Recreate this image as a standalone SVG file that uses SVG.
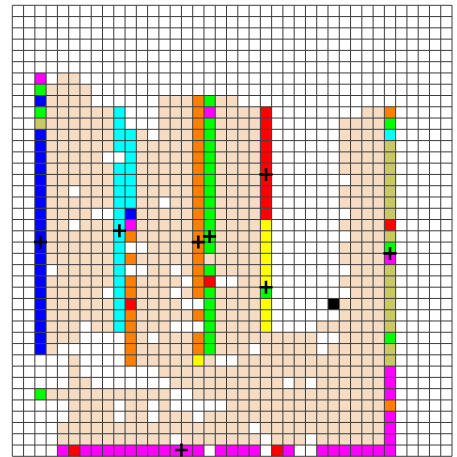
<svg xmlns="http://www.w3.org/2000/svg" width="457" height="457" viewBox="0 0 457 457">
<style>
.b{fill:#f5dcc3}.B{fill:#0000ff}.C{fill:#00ffff}.G{fill:#00ff00}.M{fill:#ff00ff}.R{fill:#ff0000}.O{fill:#ff8000}.Y{fill:#ffff00}.K{fill:#c8c864}.X{fill:#000000}
.grid{fill:none;stroke:#3c3c3c;stroke-width:1}
.cross{fill:none;stroke:#000;stroke-width:2.6}
</style>
<rect width="457" height="457" fill="#ffffff"/>
<g id="cells" transform="translate(12.3,5.3) scale(11.275)">
<rect class="M" x="2" y="6" width="1" height="1"/><rect class="b" x="4" y="6" width="2" height="1"/>
<rect class="G" x="2" y="7" width="1" height="1"/><rect class="b" x="3" y="7" width="4" height="1"/>
<rect class="B" x="2" y="8" width="1" height="1"/><rect class="b" x="3" y="8" width="4" height="1"/><rect class="b" x="13" y="8" width="3" height="1"/><rect class="O" x="16" y="8" width="1" height="1"/><rect class="G" x="17" y="8" width="1" height="1"/><rect class="b" x="18" y="8" width="2" height="1"/>
<rect class="G" x="2" y="9" width="1" height="1"/><rect class="b" x="3" y="9" width="6" height="1"/><rect class="C" x="9" y="9" width="1" height="1"/><rect class="b" x="13" y="9" width="3" height="1"/><rect class="O" x="16" y="9" width="1" height="1"/><rect class="M" x="17" y="9" width="1" height="1"/><rect class="b" x="18" y="9" width="4" height="1"/><rect class="R" x="22" y="9" width="1" height="1"/><rect class="b" x="31" y="9" width="2" height="1"/><rect class="O" x="33" y="9" width="1" height="1"/>
<rect class="K" x="2" y="10" width="1" height="1"/><rect class="b" x="3" y="10" width="6" height="1"/><rect class="C" x="9" y="10" width="1" height="1"/><rect class="b" x="13" y="10" width="3" height="1"/><rect class="O" x="16" y="10" width="1" height="1"/><rect class="G" x="17" y="10" width="1" height="1"/><rect class="b" x="18" y="10" width="4" height="1"/><rect class="R" x="22" y="10" width="1" height="1"/><rect class="b" x="29" y="10" width="4" height="1"/><rect class="G" x="33" y="10" width="1" height="1"/>
<rect class="B" x="2" y="11" width="1" height="1"/><rect class="b" x="3" y="11" width="6" height="1"/><rect class="C" x="9" y="11" width="2" height="1"/><rect class="b" x="11" y="11" width="1" height="1"/><rect class="b" x="13" y="11" width="3" height="1"/><rect class="O" x="16" y="11" width="1" height="1"/><rect class="G" x="17" y="11" width="1" height="1"/><rect class="b" x="18" y="11" width="4" height="1"/><rect class="R" x="22" y="11" width="1" height="1"/><rect class="b" x="29" y="11" width="4" height="1"/><rect class="C" x="33" y="11" width="1" height="1"/>
<rect class="B" x="2" y="12" width="1" height="1"/><rect class="b" x="3" y="12" width="6" height="1"/><rect class="C" x="9" y="12" width="2" height="1"/><rect class="b" x="11" y="12" width="5" height="1"/><rect class="O" x="16" y="12" width="1" height="1"/><rect class="G" x="17" y="12" width="1" height="1"/><rect class="b" x="18" y="12" width="4" height="1"/><rect class="R" x="22" y="12" width="1" height="1"/><rect class="b" x="29" y="12" width="4" height="1"/><rect class="K" x="33" y="12" width="1" height="1"/>
<rect class="B" x="2" y="13" width="1" height="1"/><rect class="b" x="3" y="13" width="5" height="1"/><rect class="C" x="10" y="13" width="1" height="1"/><rect class="b" x="11" y="13" width="5" height="1"/><rect class="O" x="16" y="13" width="1" height="1"/><rect class="G" x="17" y="13" width="1" height="1"/><rect class="b" x="18" y="13" width="4" height="1"/><rect class="R" x="22" y="13" width="1" height="1"/><rect class="b" x="29" y="13" width="4" height="1"/><rect class="K" x="33" y="13" width="1" height="1"/>
<rect class="B" x="2" y="14" width="1" height="1"/><rect class="b" x="3" y="14" width="6" height="1"/><rect class="C" x="9" y="14" width="2" height="1"/><rect class="b" x="11" y="14" width="5" height="1"/><rect class="O" x="16" y="14" width="1" height="1"/><rect class="G" x="17" y="14" width="1" height="1"/><rect class="b" x="18" y="14" width="4" height="1"/><rect class="R" x="22" y="14" width="1" height="1"/><rect class="b" x="29" y="14" width="4" height="1"/><rect class="K" x="33" y="14" width="1" height="1"/>
<rect class="B" x="2" y="15" width="1" height="1"/><rect class="b" x="3" y="15" width="6" height="1"/><rect class="C" x="9" y="15" width="2" height="1"/><rect class="b" x="11" y="15" width="5" height="1"/><rect class="O" x="16" y="15" width="1" height="1"/><rect class="G" x="17" y="15" width="1" height="1"/><rect class="b" x="18" y="15" width="4" height="1"/><rect class="R" x="22" y="15" width="1" height="1"/><rect class="b" x="30" y="15" width="3" height="1"/><rect class="K" x="33" y="15" width="1" height="1"/>
<rect class="B" x="2" y="16" width="1" height="1"/><rect class="b" x="3" y="16" width="2" height="1"/><rect class="b" x="6" y="16" width="3" height="1"/><rect class="C" x="9" y="16" width="2" height="1"/><rect class="b" x="11" y="16" width="5" height="1"/><rect class="O" x="16" y="16" width="1" height="1"/><rect class="G" x="17" y="16" width="1" height="1"/><rect class="b" x="18" y="16" width="4" height="1"/><rect class="R" x="22" y="16" width="1" height="1"/><rect class="b" x="29" y="16" width="4" height="1"/><rect class="K" x="33" y="16" width="1" height="1"/>
<rect class="B" x="2" y="17" width="1" height="1"/><rect class="b" x="3" y="17" width="6" height="1"/><rect class="C" x="9" y="17" width="2" height="1"/><rect class="b" x="11" y="17" width="2" height="1"/><rect class="b" x="14" y="17" width="2" height="1"/><rect class="O" x="16" y="17" width="1" height="1"/><rect class="G" x="17" y="17" width="1" height="1"/><rect class="b" x="18" y="17" width="4" height="1"/><rect class="R" x="22" y="17" width="1" height="1"/><rect class="b" x="29" y="17" width="4" height="1"/><rect class="K" x="33" y="17" width="1" height="1"/>
<rect class="B" x="2" y="18" width="1" height="1"/><rect class="b" x="3" y="18" width="4" height="1"/><rect class="C" x="9" y="18" width="1" height="1"/><rect class="B" x="10" y="18" width="1" height="1"/><rect class="b" x="11" y="18" width="5" height="1"/><rect class="O" x="16" y="18" width="1" height="1"/><rect class="G" x="17" y="18" width="1" height="1"/><rect class="b" x="18" y="18" width="4" height="1"/><rect class="R" x="22" y="18" width="1" height="1"/><rect class="b" x="30" y="18" width="3" height="1"/><rect class="K" x="33" y="18" width="1" height="1"/>
<rect class="B" x="2" y="19" width="1" height="1"/><rect class="b" x="3" y="19" width="2" height="1"/><rect class="b" x="6" y="19" width="3" height="1"/><rect class="C" x="9" y="19" width="1" height="1"/><rect class="M" x="10" y="19" width="1" height="1"/><rect class="b" x="11" y="19" width="5" height="1"/><rect class="O" x="16" y="19" width="1" height="1"/><rect class="G" x="17" y="19" width="1" height="1"/><rect class="b" x="18" y="19" width="4" height="1"/><rect class="Y" x="22" y="19" width="1" height="1"/><rect class="b" x="29" y="19" width="4" height="1"/><rect class="R" x="33" y="19" width="1" height="1"/>
<rect class="B" x="2" y="20" width="1" height="1"/><rect class="b" x="3" y="20" width="6" height="1"/><rect class="C" x="9" y="20" width="1" height="1"/><rect class="O" x="10" y="20" width="1" height="1"/><rect class="b" x="11" y="20" width="5" height="1"/><rect class="O" x="16" y="20" width="1" height="1"/><rect class="G" x="17" y="20" width="1" height="1"/><rect class="b" x="18" y="20" width="4" height="1"/><rect class="Y" x="22" y="20" width="1" height="1"/><rect class="b" x="30" y="20" width="3" height="1"/><rect class="K" x="33" y="20" width="1" height="1"/>
<rect class="B" x="2" y="21" width="1" height="1"/><rect class="b" x="3" y="21" width="6" height="1"/><rect class="C" x="9" y="21" width="1" height="1"/><rect class="b" x="12" y="21" width="4" height="1"/><rect class="O" x="16" y="21" width="1" height="1"/><rect class="G" x="17" y="21" width="1" height="1"/><rect class="b" x="18" y="21" width="4" height="1"/><rect class="Y" x="22" y="21" width="1" height="1"/><rect class="b" x="29" y="21" width="4" height="1"/><rect class="G" x="33" y="21" width="1" height="1"/>
<rect class="B" x="2" y="22" width="1" height="1"/><rect class="b" x="3" y="22" width="6" height="1"/><rect class="C" x="9" y="22" width="1" height="1"/><rect class="O" x="10" y="22" width="1" height="1"/><rect class="b" x="11" y="22" width="5" height="1"/><rect class="O" x="16" y="22" width="1" height="1"/><rect class="b" x="17" y="22" width="5" height="1"/><rect class="Y" x="22" y="22" width="1" height="1"/><rect class="b" x="29" y="22" width="4" height="1"/><rect class="M" x="33" y="22" width="1" height="1"/>
<rect class="B" x="2" y="23" width="1" height="1"/><rect class="b" x="4" y="23" width="5" height="1"/><rect class="C" x="9" y="23" width="1" height="1"/><rect class="b" x="12" y="23" width="2" height="1"/><rect class="b" x="15" y="23" width="1" height="1"/><rect class="O" x="16" y="23" width="1" height="1"/><rect class="G" x="17" y="23" width="1" height="1"/><rect class="b" x="18" y="23" width="4" height="1"/><rect class="Y" x="22" y="23" width="1" height="1"/><rect class="b" x="30" y="23" width="3" height="1"/><rect class="K" x="33" y="23" width="1" height="1"/>
<rect class="B" x="2" y="24" width="1" height="1"/><rect class="b" x="3" y="24" width="6" height="1"/><rect class="C" x="9" y="24" width="1" height="1"/><rect class="O" x="10" y="24" width="1" height="1"/><rect class="b" x="11" y="24" width="4" height="1"/><rect class="O" x="16" y="24" width="1" height="1"/><rect class="R" x="17" y="24" width="1" height="1"/><rect class="b" x="20" y="24" width="2" height="1"/><rect class="Y" x="22" y="24" width="1" height="1"/><rect class="b" x="29" y="24" width="4" height="1"/><rect class="K" x="33" y="24" width="1" height="1"/>
<rect class="B" x="2" y="25" width="1" height="1"/><rect class="b" x="3" y="25" width="5" height="1"/><rect class="C" x="9" y="25" width="1" height="1"/><rect class="O" x="10" y="25" width="1" height="1"/><rect class="b" x="11" y="25" width="3" height="1"/><rect class="b" x="15" y="25" width="1" height="1"/><rect class="O" x="16" y="25" width="1" height="1"/><rect class="G" x="17" y="25" width="1" height="1"/><rect class="b" x="18" y="25" width="4" height="1"/><rect class="G" x="22" y="25" width="1" height="1"/><rect class="b" x="30" y="25" width="3" height="1"/><rect class="K" x="33" y="25" width="1" height="1"/>
<rect class="B" x="2" y="26" width="1" height="1"/><rect class="b" x="3" y="26" width="6" height="1"/><rect class="C" x="9" y="26" width="1" height="1"/><rect class="R" x="10" y="26" width="1" height="1"/><rect class="b" x="11" y="26" width="4" height="1"/><rect class="G" x="17" y="26" width="1" height="1"/><rect class="b" x="18" y="26" width="4" height="1"/><rect class="Y" x="22" y="26" width="1" height="1"/><rect class="X" x="28" y="26" width="1" height="1"/><rect class="b" x="29" y="26" width="4" height="1"/><rect class="K" x="33" y="26" width="1" height="1"/>
<rect class="B" x="2" y="27" width="1" height="1"/><rect class="b" x="3" y="27" width="6" height="1"/><rect class="C" x="9" y="27" width="1" height="1"/><rect class="O" x="10" y="27" width="1" height="1"/><rect class="b" x="11" y="27" width="5" height="1"/><rect class="O" x="16" y="27" width="1" height="1"/><rect class="G" x="17" y="27" width="1" height="1"/><rect class="b" x="18" y="27" width="4" height="1"/><rect class="Y" x="22" y="27" width="1" height="1"/><rect class="b" x="29" y="27" width="4" height="1"/><rect class="K" x="33" y="27" width="1" height="1"/>
<rect class="B" x="2" y="28" width="1" height="1"/><rect class="b" x="3" y="28" width="3" height="1"/><rect class="b" x="7" y="28" width="2" height="1"/><rect class="C" x="9" y="28" width="1" height="1"/><rect class="O" x="10" y="28" width="1" height="1"/><rect class="b" x="11" y="28" width="3" height="1"/><rect class="G" x="17" y="28" width="1" height="1"/><rect class="b" x="18" y="28" width="4" height="1"/><rect class="Y" x="22" y="28" width="1" height="1"/><rect class="b" x="27" y="28" width="6" height="1"/><rect class="K" x="33" y="28" width="1" height="1"/>
<rect class="B" x="2" y="29" width="1" height="1"/><rect class="b" x="3" y="29" width="3" height="1"/><rect class="O" x="10" y="29" width="1" height="1"/><rect class="b" x="11" y="29" width="1" height="1"/><rect class="b" x="13" y="29" width="3" height="1"/><rect class="O" x="16" y="29" width="1" height="1"/><rect class="G" x="17" y="29" width="1" height="1"/><rect class="b" x="18" y="29" width="9" height="1"/><rect class="b" x="29" y="29" width="4" height="1"/><rect class="G" x="33" y="29" width="1" height="1"/>
<rect class="B" x="2" y="30" width="1" height="1"/><rect class="b" x="3" y="30" width="1" height="1"/><rect class="O" x="10" y="30" width="1" height="1"/><rect class="b" x="11" y="30" width="5" height="1"/><rect class="O" x="16" y="30" width="1" height="1"/><rect class="G" x="17" y="30" width="1" height="1"/><rect class="b" x="18" y="30" width="3" height="1"/><rect class="b" x="22" y="30" width="5" height="1"/><rect class="b" x="28" y="30" width="5" height="1"/><rect class="K" x="33" y="30" width="1" height="1"/>
<rect class="b" x="5" y="31" width="1" height="1"/><rect class="O" x="10" y="31" width="1" height="1"/><rect class="b" x="11" y="31" width="5" height="1"/><rect class="Y" x="16" y="31" width="1" height="1"/><rect class="b" x="17" y="31" width="1" height="1"/><rect class="b" x="20" y="31" width="13" height="1"/><rect class="K" x="33" y="31" width="1" height="1"/>
<rect class="b" x="5" y="32" width="1" height="1"/><rect class="b" x="13" y="32" width="20" height="1"/><rect class="M" x="33" y="32" width="1" height="1"/>
<rect class="b" x="5" y="33" width="2" height="1"/><rect class="b" x="14" y="33" width="10" height="1"/><rect class="b" x="25" y="33" width="1" height="1"/><rect class="b" x="27" y="33" width="6" height="1"/><rect class="M" x="33" y="33" width="1" height="1"/>
<rect class="G" x="2" y="34" width="1" height="1"/><rect class="b" x="3" y="34" width="11" height="1"/><rect class="b" x="16" y="34" width="17" height="1"/><rect class="M" x="33" y="34" width="1" height="1"/>
<rect class="b" x="5" y="35" width="4" height="1"/><rect class="b" x="10" y="35" width="2" height="1"/><rect class="b" x="13" y="35" width="1" height="1"/><rect class="b" x="19" y="35" width="14" height="1"/><rect class="O" x="33" y="35" width="1" height="1"/>
<rect class="b" x="5" y="36" width="4" height="1"/><rect class="b" x="10" y="36" width="2" height="1"/><rect class="b" x="13" y="36" width="3" height="1"/><rect class="b" x="17" y="36" width="16" height="1"/><rect class="M" x="33" y="36" width="1" height="1"/>
<rect class="b" x="4" y="37" width="17" height="1"/><rect class="b" x="22" y="37" width="11" height="1"/><rect class="M" x="33" y="37" width="1" height="1"/>
<rect class="b" x="4" y="38" width="10" height="1"/><rect class="b" x="15" y="38" width="7" height="1"/><rect class="b" x="23" y="38" width="3" height="1"/><rect class="b" x="27" y="38" width="6" height="1"/><rect class="M" x="33" y="38" width="1" height="1"/>
<rect class="M" x="4" y="39" width="1" height="1"/><rect class="R" x="5" y="39" width="1" height="1"/><rect class="M" x="6" y="39" width="11" height="1"/><rect class="M" x="18" y="39" width="4" height="1"/><rect class="R" x="23" y="39" width="1" height="1"/><rect class="M" x="24" y="39" width="1" height="1"/><rect class="M" x="27" y="39" width="7" height="1"/>
</g>
<g id="grid" transform="translate(12.3,5.3) scale(11.275)">
<path class="grid" vector-effect="non-scaling-stroke" d="M0 0V40M1 0V40M2 0V40M3 0V40M4 0V40M5 0V40M6 0V40M7 0V40M8 0V40M9 0V40M10 0V40M11 0V40M12 0V40M13 0V40M14 0V40M15 0V40M16 0V40M17 0V40M18 0V40M19 0V40M20 0V40M21 0V40M22 0V40M23 0V40M24 0V40M25 0V40M26 0V40M27 0V40M28 0V40M29 0V40M30 0V40M31 0V40M32 0V40M33 0V40M34 0V40M35 0V40M36 0V40M37 0V40M38 0V40M39 0V40"/>
<path class="grid" vector-effect="non-scaling-stroke" d="M0 0H39M0 1H39M0 2H39M0 3H39M0 4H39M0 5H39M0 6H39M0 7H39M0 8H39M0 9H39M0 10H39M0 11H39M0 12H39M0 13H39M0 14H39M0 15H39M0 16H39M0 17H39M0 18H39M0 19H39M0 20H39M0 21H39M0 22H39M0 23H39M0 24H39M0 25H39M0 26H39M0 27H39M0 28H39M0 29H39M0 30H39M0 31H39M0 32H39M0 33H39M0 34H39M0 35H39M0 36H39M0 37H39M0 38H39M0 39H39M0 40H39"/>
</g>
<g id="markers">
<path class="cross" d="M34 242H47M40.4 235.5V248.5"/>
<path class="cross" d="M113 230.8H126M119.4 224.3V237.3"/>
<path class="cross" d="M191.8 242.1H204.8M198.3 235.6V248.6"/>
<path class="cross" d="M203.1 236.4H216.1M209.6 229.9V242.9"/>
<path class="cross" d="M259.5 174.4H272.5M266 167.9V180.9"/>
<path class="cross" d="M259.5 287.2H272.5M266 280.7V293.7"/>
<path class="cross" d="M383.5 253.4H396.5M390 246.9V259.9"/>
<path class="cross" d="M174.9 450H187.9M181.4 443.5V456.5"/>
</g>
</svg>
